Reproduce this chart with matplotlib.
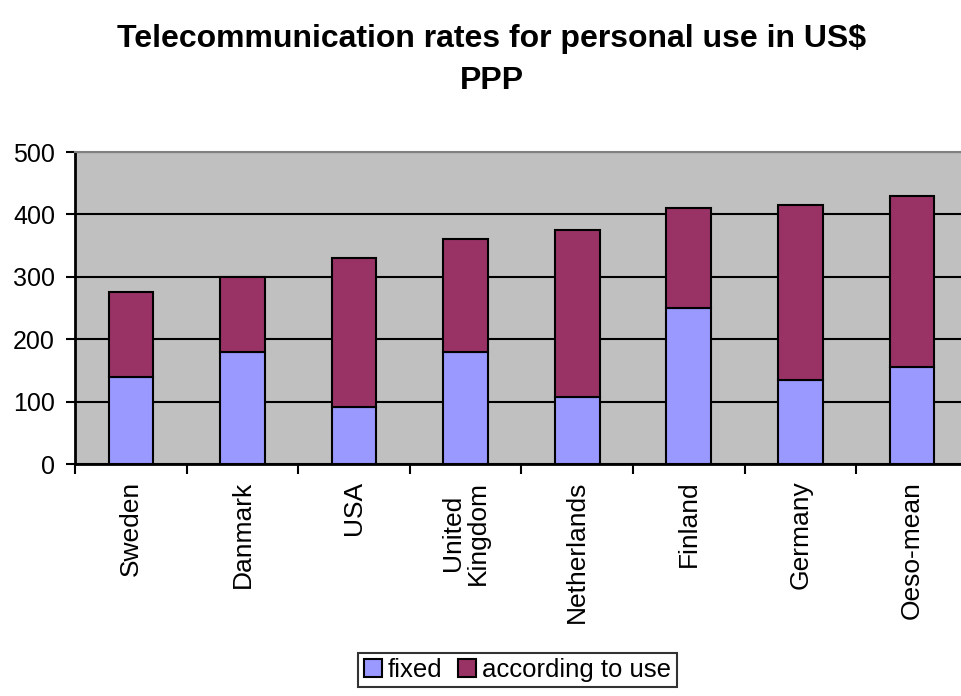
import numpy as np
from matplotlib import pyplot as plt

countries = ["Sweden", "Danmark", "USA", "United\nKingdom", "Netherlands",
             "Finland", "Germany", "Oeso-mean"]
fixed = [140, 180, 92, 180, 108, 250, 135, 155]
total = [275, 300, 330, 360, 375, 410, 415, 430]
according = [t - f for t, f in zip(total, fixed)]
y_ticks = [0, 100, 200, 300, 400, 500]

plt.rcParams['font.family'] = ['Liberation Sans', 'DejaVu Sans']

fig = plt.figure(figsize=(9.62, 6.96), dpi=100)
ax = fig.add_axes([0.078, 0.3333, 0.928, 0.4483])
ax.set_facecolor("#C0C0C0")

x = np.arange(len(countries))
ax.bar(x, fixed, width=0.4, color="#9999FF", edgecolor="black", linewidth=1.5,
       label="fixed", zorder=3)
ax.bar(x, according, width=0.4, bottom=fixed, color="#993366", edgecolor="black",
       linewidth=1.5, label="according to use", zorder=3)

ax.set_xlim(-0.5, len(countries) - 0.5)
ax.set_ylim(0, 500)
ax.set_yticks(y_ticks)
ax.set_yticklabels([str(v) for v in y_ticks], fontsize=18)
ax.yaxis.grid(True, color="black", linewidth=1.5)
ax.set_axisbelow(True)

# ticks between categories, labels at centres
ax.set_xticks(np.arange(len(countries) + 1) - 0.5)
ax.set_xticklabels([])
ax.set_xticks(x, minor=True)
ax.set_xticklabels(countries, minor=True, rotation=90, fontsize=19,
                   va="top", ha="center", linespacing=1.05)
ax.tick_params(axis="x", which="minor", length=0, pad=12)
ax.tick_params(axis="x", which="major", length=7, width=1.5, direction="out")
ax.tick_params(axis="y", length=6.5, width=1.5, direction="out", pad=8)

for side in ["left", "bottom"]:
    ax.spines[side].set_linewidth(2)
    ax.spines[side].set_color("black")
ax.spines["top"].set_color("#808080")
ax.spines["top"].set_linewidth(1.5)
ax.spines["right"].set_visible(False)

fig.text(0.511, 0.965, "Telecommunication rates for personal use in US$\nPPP",
         ha="center", va="top", fontsize=23, fontweight="bold", linespacing=1.5)

leg = fig.legend(loc="lower center", bbox_to_anchor=(0.538, 0.005), ncol=2,
                 fontsize=18.5, frameon=True, fancybox=False, shadow=False,
                 handlelength=0.7, handleheight=0.7, handletextpad=0.25,
                 columnspacing=0.6, borderpad=0.2, borderaxespad=0.2)
leg.get_frame().set_edgecolor("black")
leg.get_frame().set_linewidth(1.5)

plt.savefig("out.png", dpi=100)
